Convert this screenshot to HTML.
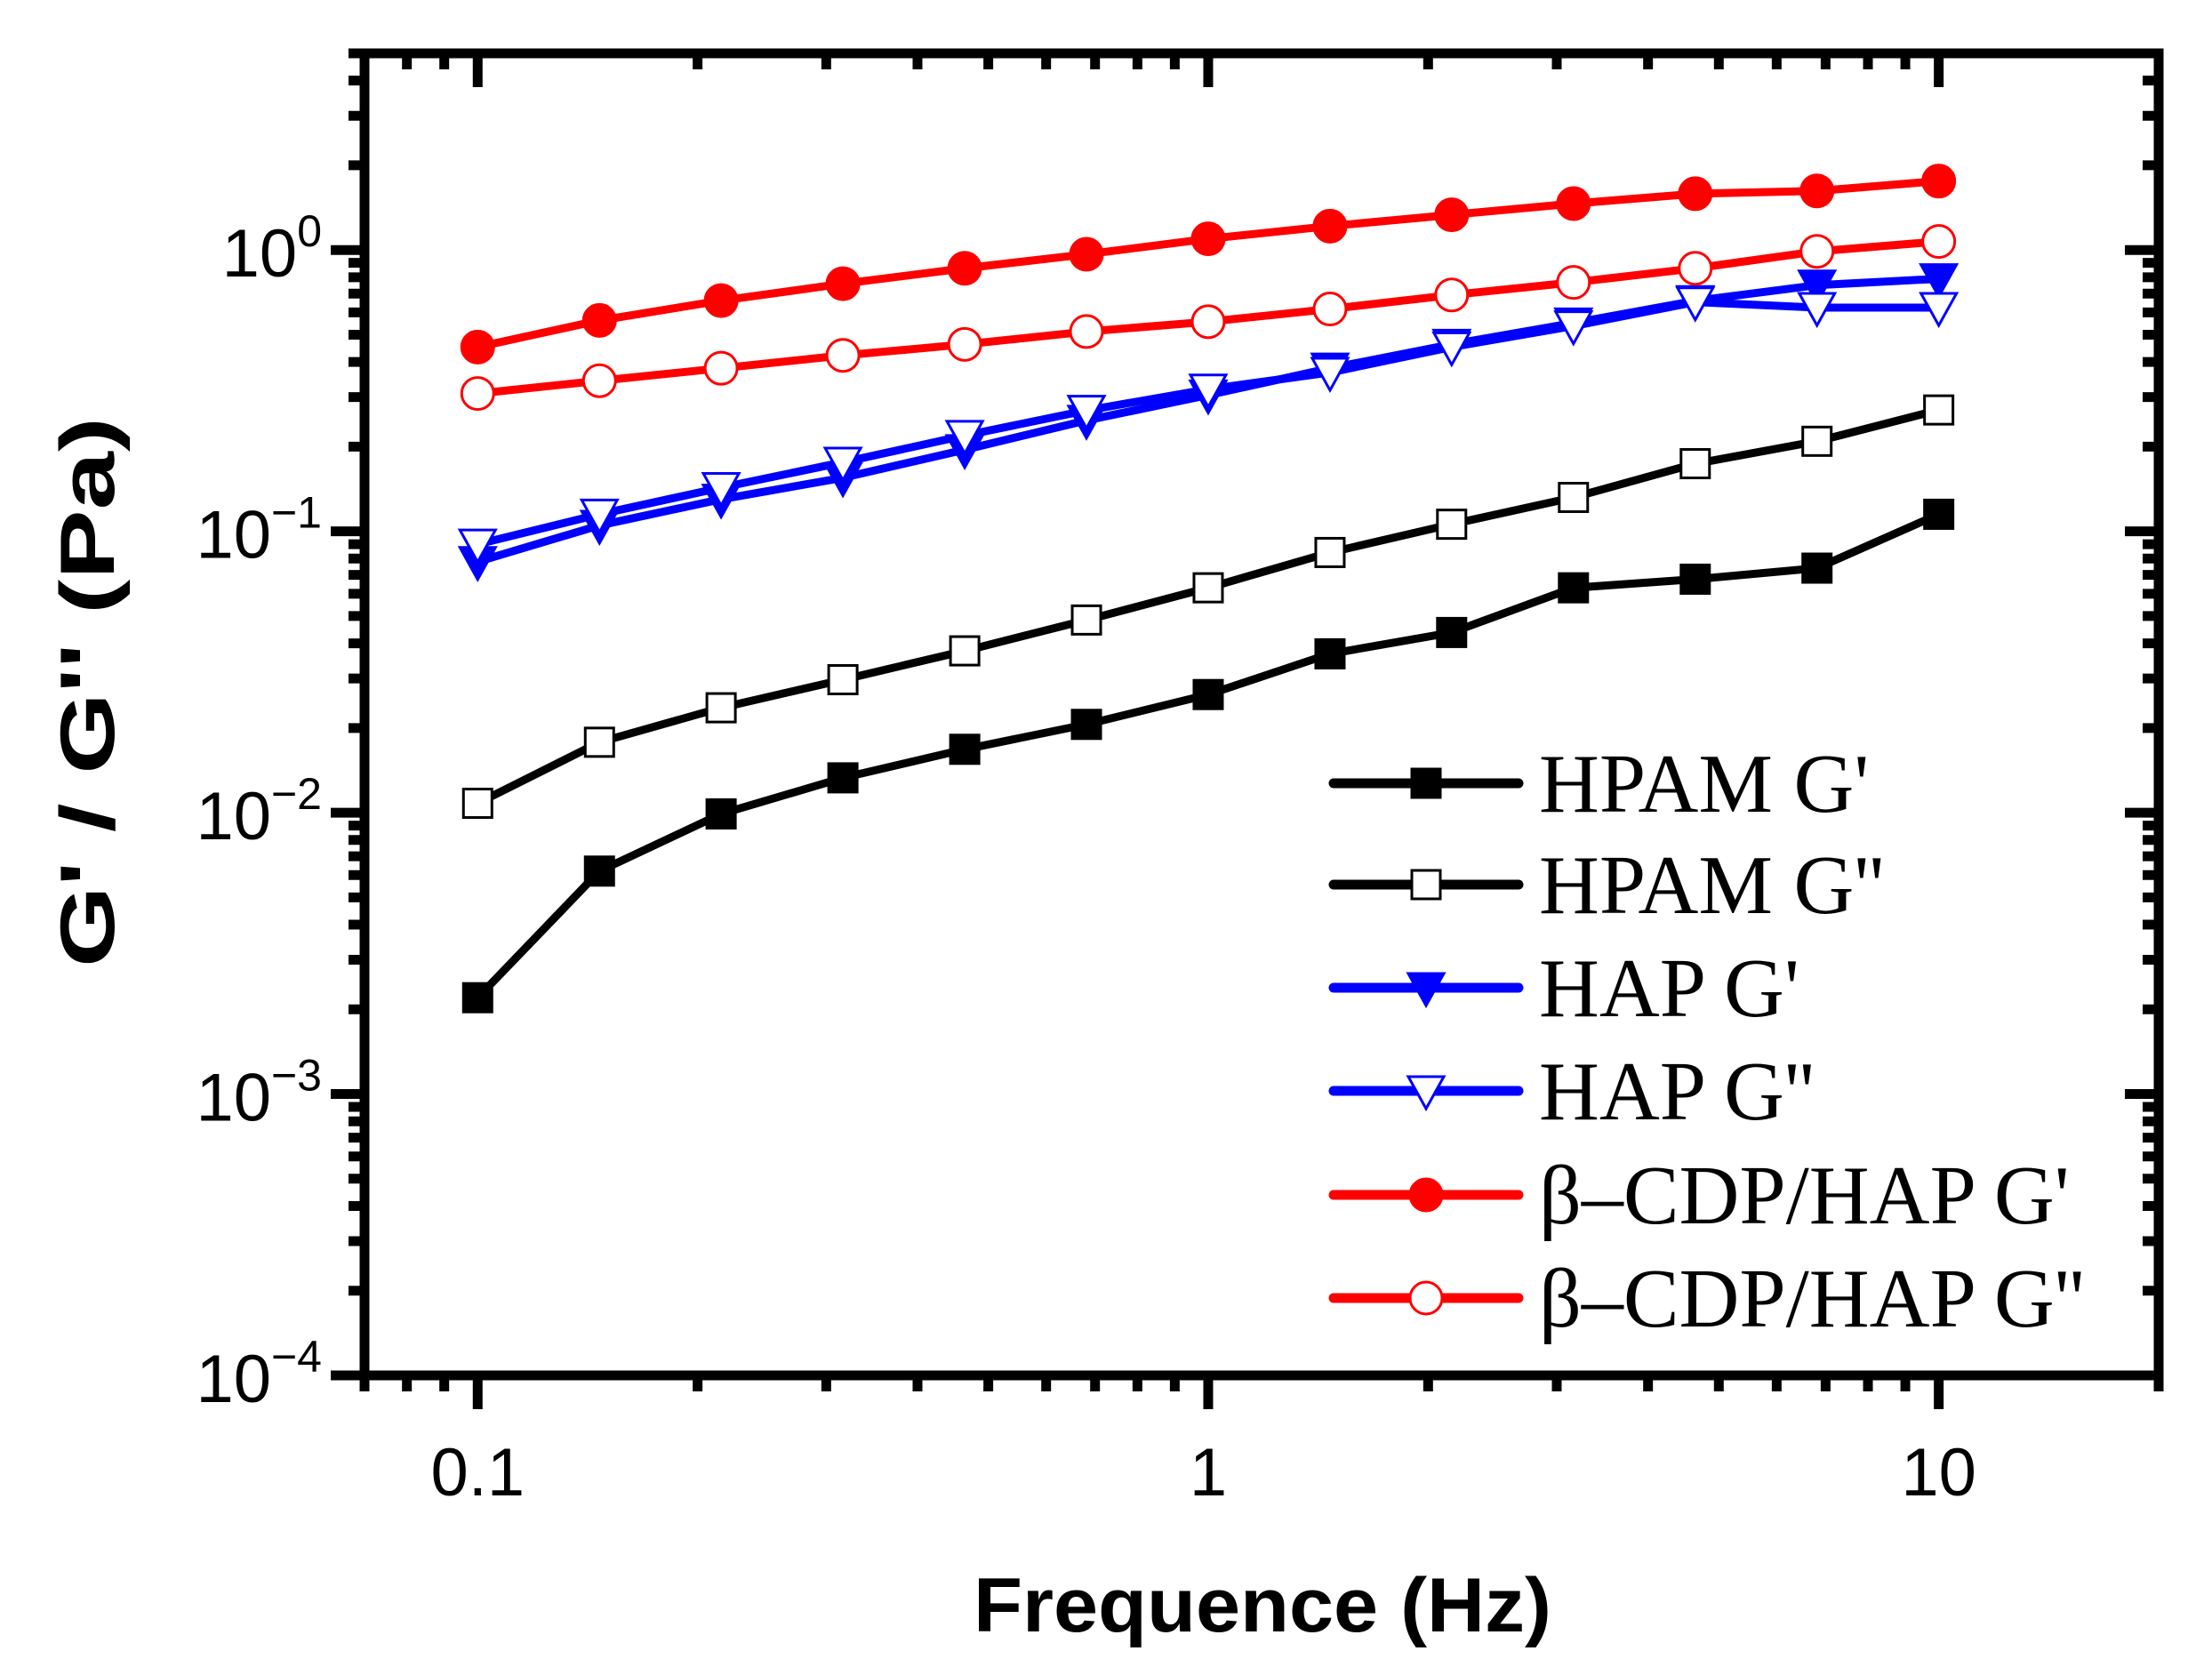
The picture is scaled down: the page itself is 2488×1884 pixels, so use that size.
<!DOCTYPE html>
<html><head><meta charset="utf-8"><style>
html,body{margin:0;padding:0;background:#fff}
svg{display:block}
</style></head><body>
<svg id="chart" xmlns="http://www.w3.org/2000/svg" width="2488" height="1884" viewBox="0 0 2488 1884">
<rect width="2488" height="1884" fill="#fff"/>
<g id="ticks"></g>
<g id="series"></g>
<rect x="410" y="60" width="2018" height="1487" fill="none" stroke="#000" stroke-width="11"/>
<g id="labels" font-family="Liberation Sans, sans-serif" font-size="76" fill="#000"></g>
<text x="1095" y="1835" text-anchor="start" font-family="Liberation Sans, sans-serif" font-weight="bold" font-size="86" textLength="650" lengthAdjust="spacingAndGlyphs">Frequence (Hz)</text>
<text transform="translate(128,1088) rotate(-90)" text-anchor="start" font-family="Liberation Sans, sans-serif" font-weight="bold" font-size="86" textLength="619" lengthAdjust="spacingAndGlyphs">G' / G'' (Pa)</text>
<g id="legend" font-family="Liberation Serif, serif" font-size="94" fill="#000"></g>
</svg>
<script>
const freqs = [0.1,0.1468,0.2154,0.3162,0.4642,0.6813,1,1.468,2.154,3.162,4.642,6.813,10];
const hpamGp  = [0.0022,0.0062,0.0099,0.0133,0.0168,0.0206,0.0263,0.0367,0.0437,0.063,0.0676,0.074,0.115];
const hpamGpp = [0.0108,0.0178,0.0236,0.0297,0.0376,0.0484,0.063,0.0841,0.106,0.132,0.174,0.209,0.27];
const hapGp   = [0.078,0.105,0.130,0.155,0.195,0.248,0.305,0.38,0.462,0.55,0.66,0.75,0.79];
const hapGpp  = [0.090,0.115,0.143,0.176,0.219,0.269,0.32,0.367,0.452,0.537,0.653,0.624,0.624];
const cdpGp   = [0.452,0.562,0.661,0.759,0.861,0.966,1.096,1.216,1.334,1.462,1.585,1.622,1.758];
const cdpGpp  = [0.309,0.343,0.380,0.422,0.462,0.513,0.556,0.617,0.692,0.767,0.861,0.989,1.072];
const xTickVals = [0.1,1,10];
const xTickLabels = ["0.1","1","10"];
const yTickExps = [0,-1,-2,-3,-4];

const NS="http://www.w3.org/2000/svg";
const X0=410,X1=2428,Y0=60,Y1=1547;
const xmin=Math.log10(0.07), xmax=Math.log10(20);
const ymin=-4, ymax=Math.log10(5);
function xs(v){return X0+(Math.log10(v)-xmin)/(xmax-xmin)*(X1-X0);}
function ys(v){return Y1-(Math.log10(v)-ymin)/(ymax-ymin)*(Y1-Y0);}
function mk(tag,attrs,parent){const e=document.createElementNS(NS,tag);for(const k in attrs)e.setAttribute(k,attrs[k]);parent.appendChild(e);return e;}

const ticks=document.getElementById('ticks');
for(let d=-2;d<=1;d++){for(let m=1;m<=9;m++){const v=m*Math.pow(10,d);if(v<0.07||v>20)continue;const x=xs(v);const L=m===1?38:18;
 const t1=mk('line',{x1:x,x2:x,y1:Y1,y2:Y1+L,stroke:'#000','stroke-width':11},ticks);
 
 
 const t2=mk('line',{x1:x,x2:x,y1:Y0,y2:Y0+L,stroke:'#000','stroke-width':11},ticks);
 
 }}
for(let d=-4;d<=0;d++){for(let m=1;m<=9;m++){const v=m*Math.pow(10,d);if(Math.log10(v)>ymax+1e-9)continue;const y=ys(v);const L=m===1?38:18;
 const t1=mk('line',{x1:X0-L,x2:X0,y1:y,y2:y,stroke:'#000','stroke-width':11},ticks);
 
 
 const t2=mk('line',{x1:X1-L,x2:X1,y1:y,y2:y,stroke:'#000','stroke-width':11},ticks);
 
 }}

const labels=document.getElementById('labels');
xTickVals.forEach((v,i)=>{const t=mk('text',{x:xs(v),y:1682,'text-anchor':'middle'},labels);t.textContent=xTickLabels[i];
 
 });
yTickExps.forEach(e=>{const y=ys(Math.pow(10,e));const t=mk('text',{x:362,y:y+30,'text-anchor':'end'},labels);
 const a=mk('tspan',{},t);a.textContent='10';
 const b=mk('tspan',{dy:-34,'font-size':50},t);b.textContent=(e<0?'\u2212':'')+Math.abs(e);
 
 });

function marker(g,type,color,x,y){
 const s=16;
 let e;
 if(type==='sqF'||type==='sqO'){e=mk('rect',{x:x-s,y:y-s,width:2*s,height:2*s,fill:type==='sqF'?color:'#fff',stroke:color,'stroke-width':3},g);}
 else if(type==='triF'||type==='triO'){e=mk('polygon',{points:`${x-20},${y-16} ${x+20},${y-16} ${x},${y+20}`,fill:type==='triF'?color:'#fff',stroke:color,'stroke-width':3},g);}
 else {e=mk('circle',{cx:x,cy:y,r:type==='cirF'?18:18,fill:type==='cirF'?color:'#fff',stroke:color,'stroke-width':3},g);}
 return e;
}
const seriesDefs=[
 {data:hpamGp,color:'#000',m:'sqF',name:'HPAM G\''},
 {data:hpamGpp,color:'#000',m:'sqO',name:'HPAM G\'\''},
 {data:hapGp,color:'#0000ff',m:'triF',name:'HAP G\''},
 {data:hapGpp,color:'#0000ff',m:'triO',name:'HAP G\'\''},
 {data:cdpGp,color:'#ff0000',m:'cirF',name:'\u03b2\u2013CDP/HAP G\''},
 {data:cdpGpp,color:'#ff0000',m:'cirO',name:'\u03b2\u2013CDP/HAP G\'\''}
];
const sg=document.getElementById('series');
seriesDefs.forEach((s,si)=>{
 const g=mk('g',{},sg);
 
 
 const pts=freqs.map((f,i)=>xs(f)+','+ys(s.data[i])).join(' ');
 const pl=mk('polyline',{points:pts,fill:'none',stroke:s.color,'stroke-width':9,'stroke-linejoin':'round','stroke-linecap':'round'},g);
 
 
 freqs.forEach((f,i)=>{const e=marker(g,s.m,s.color,xs(f),ys(s.data[i]));
  
  });
});
const lg=document.getElementById('legend');
const legY=[881,995,1111,1227,1344,1460];
seriesDefs.forEach((s,i)=>{
 const g=mk('g',{},lg);
 
 
 const y=legY[i];
 mk('line',{x1:1500,x2:1708,y1:y,y2:y,stroke:s.color,'stroke-width':11,'stroke-linecap':'round'},g);
 marker(g,s.m,s.color,1604,y);
 const t=mk('text',{x:1731,y:y+32},g);t.textContent=s.name;
});
</script>
</body></html>
